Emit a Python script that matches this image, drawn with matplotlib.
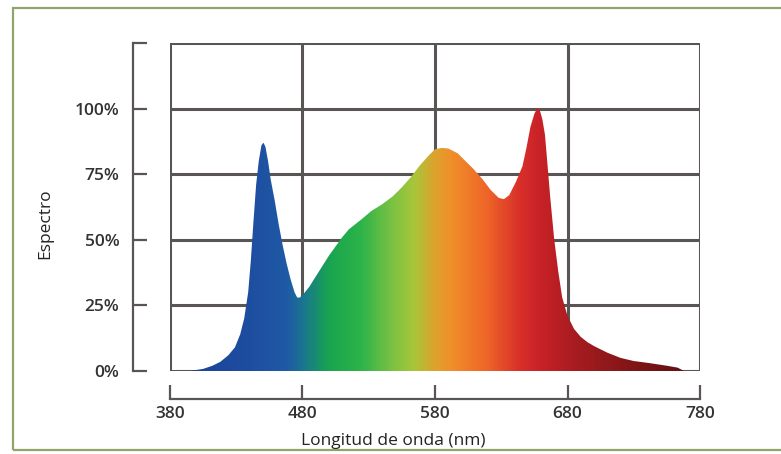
import numpy as np
import matplotlib.pyplot as plt
from matplotlib.colors import LinearSegmentedColormap
from matplotlib.patches import Polygon, Rectangle

plt.rcParams['font.family'] = ['Open Sans', 'DejaVu Sans']

# spectrum (wavelength nm, relative %)
wavelength = [395, 405, 412, 418, 424, 429, 433, 436, 439, 441, 443, 445,
              447, 449, 450.5, 452, 454, 456, 459, 462, 465, 468, 471, 474,
              476, 478, 481, 485, 490, 495, 500, 505, 510, 515, 520, 525,
              532, 540, 548, 555, 562, 568, 575, 580, 585, 590, 597, 603,
              609, 616, 622, 628, 632, 636, 641, 646, 649, 652, 655, 657,
              659, 661, 663, 665, 667, 670, 673, 676, 680, 685, 690, 695,
              700, 710, 720, 730, 742, 755, 763, 768]
spectrum = [0, 0.8, 2, 3.5, 6, 9, 14, 20, 30, 42, 57, 71,
            80, 86, 87, 85.5, 80, 73, 65, 56, 48, 41, 35, 30,
            28, 28, 29.5, 32, 36, 40, 44, 47.5, 51, 54, 56, 58,
            61, 63.5, 66.5, 70, 74, 78, 82, 84.5, 85, 84.8, 83, 80,
            77, 73, 69, 66, 65.5, 67, 72, 78, 85, 93, 98, 100,
            99.5, 96, 90, 78, 66, 50, 38, 28, 21, 16, 13, 11,
            9.5, 7, 5, 3.8, 3, 2, 1.3, 0]

x_ticks = [380, 480, 580, 680, 780]
y_ticks = [0, 25, 50, 75, 100, 125]
y_labels = ['0%', '25%', '50%', '75%', '100%', '']

spec_colors = [(0.00, '#1b3f93'), (0.15, '#1e4ea0'), (0.22, '#1f5aa6'),
               (0.255, '#1a7a8a'), (0.30, '#19a54e'), (0.36, '#2db34a'),
               (0.42, '#7cc242'), (0.46, '#a8c63a'), (0.50, '#dca22c'),
               (0.53, '#f0902a'), (0.60, '#ee6428'), (0.66, '#d9302b'),
               (0.70, '#c82127'), (0.77, '#a51c20'), (0.88, '#7e1516'),
               (1.00, '#5c0f10')]
cmap = LinearSegmentedColormap.from_list('spec', spec_colors)

fig = plt.figure(figsize=(7.81, 4.54), dpi=100)
fig.patch.set_facecolor('white')
fig.patches.append(Rectangle((13 / 781, 1 - 450 / 454), 0.99, (450 - 8) / 454,
                             transform=fig.transFigure, fill=False,
                             edgecolor='#8ea56c', lw=1.6))

ax = fig.add_axes([170 / 781, 1 - 371 / 454, 530 / 781, 328 / 454])
ax.set_xlim(380, 780)
ax.set_ylim(0, 125)
ax.set_axisbelow(True)

verts = list(zip(wavelength, spectrum)) + [(wavelength[-1], 0), (wavelength[0], 0)]
poly = Polygon(verts, closed=True, facecolor='none', edgecolor='none',
               transform=ax.transData)
ax.add_patch(poly)
grad = np.linspace(0, 1, 400).reshape(1, -1)
im = ax.imshow(grad, cmap=cmap, extent=[380, 780, 0, 125], aspect='auto',
               origin='lower', zorder=2)
im.set_clip_path(poly)

ax.set_xticks(x_ticks)
ax.set_yticks(y_ticks)
ax.set_yticklabels(y_labels)
ax.grid(True, color='#5a5555', lw=2.2)
for gl in ax.get_xgridlines() + ax.get_ygridlines():
    gl.set_clip_on(False)

for s in ['top', 'right']:
    ax.spines[s].set_visible(False)
ax.spines['left'].set_position(('outward', 26.5))
ax.spines['bottom'].set_position(('outward', 20.5))
for s in ['left', 'bottom']:
    ax.spines[s].set_color('#5a5555')
    ax.spines[s].set_linewidth(1.6)
ax.tick_params(axis='both', direction='in', length=10, width=1.6,
               color='#5a5555', labelsize=12.5, labelcolor='#333333')
ax.tick_params(axis='y', pad=10)
ax.tick_params(axis='x', pad=5)
for t in ax.get_xticklabels() + ax.get_yticklabels():
    t.set_fontweight('semibold')

fig.text(393 / 781, 1 - 441 / 454, 'Longitud de onda (nm)', ha='center',
         va='center', fontsize=12.5, color='#222222', fontweight='medium')
fig.text(45 / 781, 1 - 224 / 454, 'Espectro', ha='center', va='center',
         rotation=90, fontsize=12.5, color='#222222', fontweight='medium')

fig.savefig('out.png', dpi=100)
